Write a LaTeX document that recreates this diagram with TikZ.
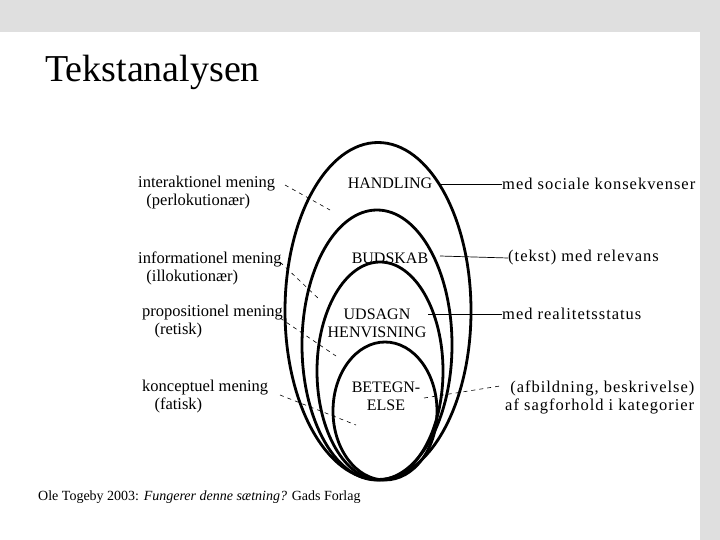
\documentclass[tikz,border=0pt]{standalone}
\usepackage{fontspec}
\setmainfont{Liberation Serif}
\newfontfamily\spaced[LetterSpace=6]{Liberation Serif}
\begin{document}
\begin{tikzpicture}[x=1pt,y=-1pt,
 lbl/.style={inner sep=0,anchor=west,font=\fontsize{16.5}{18}\selectfont},
 rlbl/.style={inner sep=0,anchor=west,font=\spaced\fontsize{16.5}{18}\selectfont},
 inl/.style={inner sep=0,font=\fontsize{16}{18}\selectfont,align=center},
 ell/.style={line width=2.8pt},
 lead/.style={line width=0.7pt},
 dlead/.style={line width=0.6pt,dash pattern=on 4pt off 4pt}]
\fill[gray!25] (0,0) rectangle (720,540);
\fill[white] (0,32) rectangle (700,540);
\useasboundingbox (0,0) rectangle (720,540);
\node[inner sep=0,anchor=west,font=\fontsize{38}{40}\selectfont] (title) at (45,72) {Tekstanalysen};
\draw[ell] (378,311) ellipse [x radius=93,y radius=168.5];
\draw[ell] (377,345) ellipse [x radius=75,y radius=135];
\draw[ell] (380,371) ellipse [x radius=63,y radius=109];
\draw[ell] (385,411) ellipse [x radius=52,y radius=69];
\node[inl] (h) at (390,183) {HANDLING};
\node[inl] (b) at (390,258) {BUDSKAB};
\node[inl] (u) at (377,323) {UDSAGN\\HENVISNING};
\node[inl] (be) at (386,396) {BETEGN-\\ELSE};
\node[rlbl] (r1) at (502,184) {med sociale konsekvenser};
\node[rlbl] (r2) at (508,258) {(tekst) med relevans};
\node[rlbl] (r3) at (502,314) {med realitetsstatus};
\node[rlbl,align=left] (r4) at (505,397) {\ (afbildning, beskrivelse)\\af sagforhold i kategorier};
\coordinate (h1) at (440,184); \draw[lead] (h1) -- (r1.west);
\coordinate (b1) at (440,256); \draw[lead] (b1) -- (r2.west);
\coordinate (u1) at (428,314); \draw[lead] (u1) -- (r3.west);
\coordinate (e1) at (424,398); \coordinate (e2) at (500,386); \draw[dlead] (e1) -- (e2);
\node[lbl,align=left] (l1) at (138,193) {interaktionel mening\\\ \ (perlokutionær)};
\node[lbl,align=left] (l2) at (138,268) {informationel mening\\\ \ (illokutionær)};
\node[lbl,align=left] (l3) at (142,322) {propositionel mening\\\ \ \ (retisk)};
\node[lbl,align=left] (l4) at (142,397) {konceptuel mening\\\ \ \ (fatisk)};
\coordinate (a1) at (285,185); \coordinate (a2) at (330,210); \draw[dlead] (a1) -- (a2);
\coordinate (b2) at (280,262); \coordinate (b3) at (320,300); \draw[dlead] (b2) -- (b3);
\coordinate (c1) at (280,318); \coordinate (c2) at (336,356); \draw[dlead] (c1) -- (c2);
\coordinate (d1) at (280,395); \coordinate (d2) at (356,425); \draw[dlead] (d1) -- (d2);
\node[inner sep=0,anchor=west,font=\fontsize{14}{15}\selectfont] (cite) at (38,497) {Ole Togeby 2003: \textit{Fungerer denne sætning?} Gads Forlag};
\end{tikzpicture}
\end{document}
